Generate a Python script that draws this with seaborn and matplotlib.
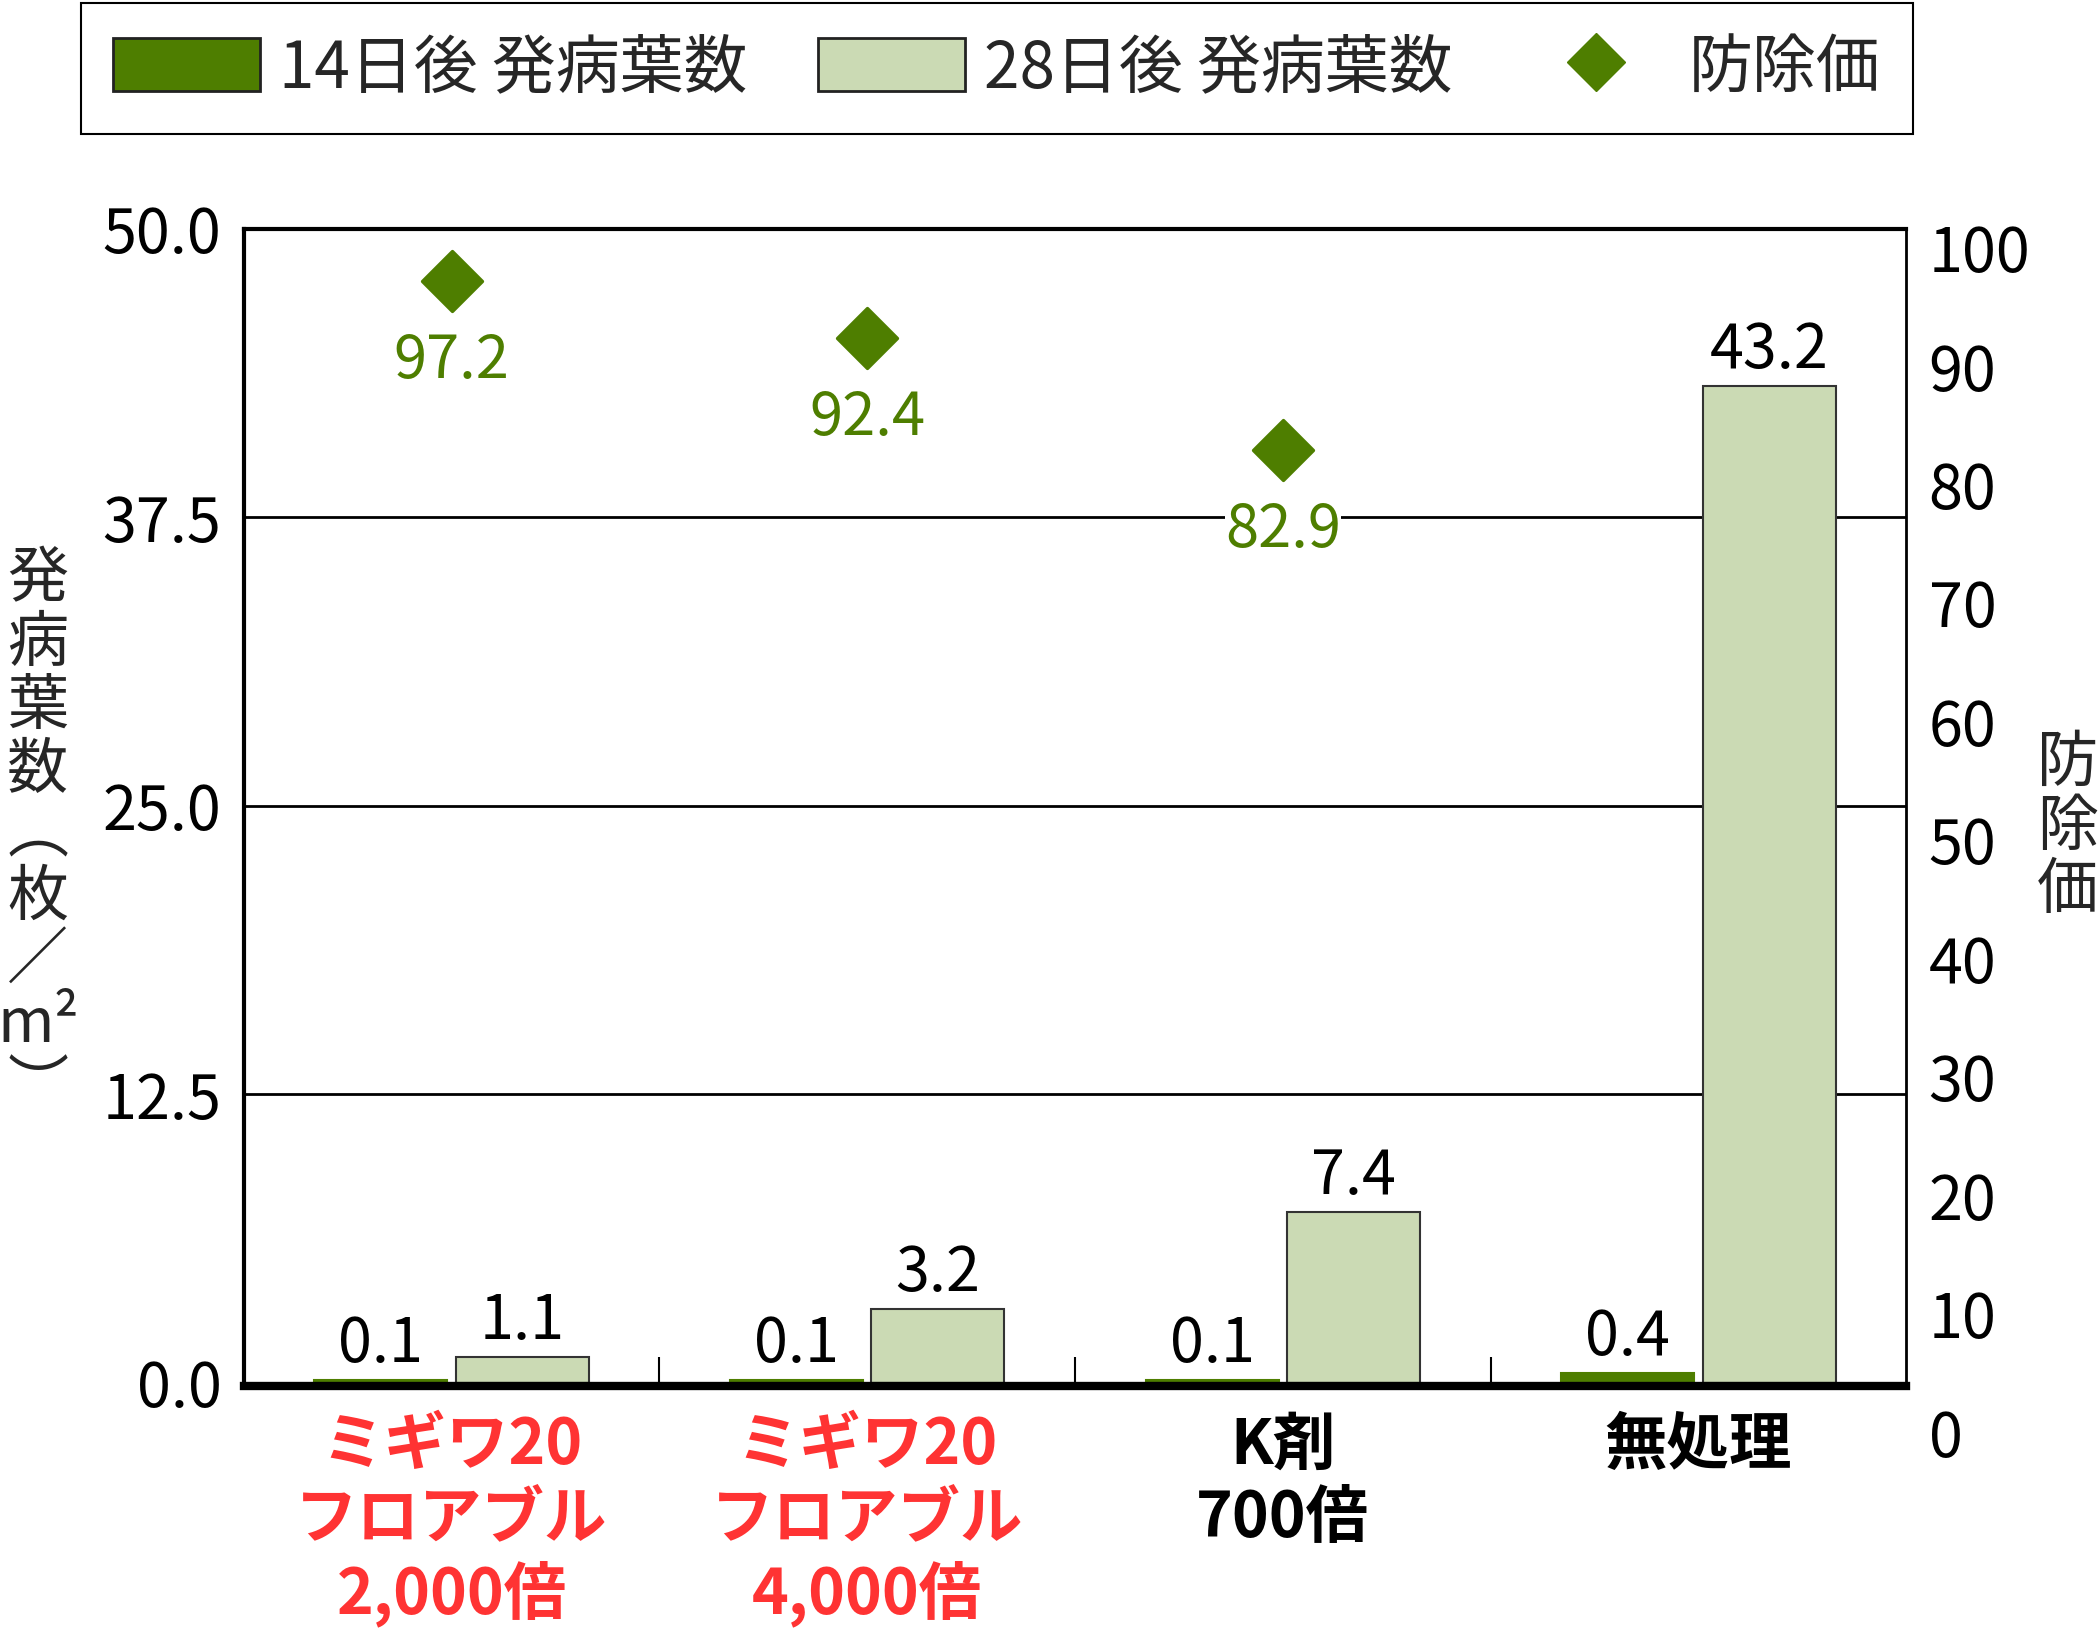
import pandas as pd
import matplotlib
matplotlib.use("Agg")
import matplotlib.pyplot as plt
import seaborn as sns
from matplotlib.patches import Patch
from matplotlib.lines import Line2D

# data
treatments = ["ミギワ20\nフロアブル\n2,000倍", "ミギワ20\nフロアブル\n4,000倍", "K剤\n700倍", "無処理"]
label_colors = ["#FF3333", "#FF3333", "black", "black"]
day14 = [0.1, 0.1, 0.1, 0.4]
day28 = [1.1, 3.2, 7.4, 43.2]
control_value = [97.2, 92.4, 82.9]
series_names = ["14日後 発病葉数", "28日後 発病葉数"]
left_ticks = [0.0, 12.5, 25.0, 37.5, 50.0]
right_ticks = [0, 10, 20, 30, 40, 50, 60, 70, 80, 90, 100]

DARK = "#4E7E00"
LIGHT = "#CBDAB4"

df = pd.DataFrame({
    "treatment": treatments * 2,
    "count": day14 + day28,
    "timing": [series_names[0]] * 4 + [series_names[1]] * 4,
})

sns.set_theme(style="white")
plt.rcParams["font.family"] = ["Noto Sans CJK JP", "DejaVu Sans"]

fig = plt.figure(figsize=(20.99, 16.48), dpi=100)
ax = fig.add_axes([0.1161, 0.161, 0.7921, 0.700])

sns.barplot(data=df, x="treatment", y="count", hue="timing", palette=[DARK, LIGHT],
            width=0.68, gap=0.06, ax=ax, legend=False, saturation=1)
for bar in ax.containers[0]:
    bar.set_edgecolor(DARK)
    bar.set_linewidth(1.5)
for bar in ax.containers[1]:
    bar.set_edgecolor("#333333")
    bar.set_linewidth(1.5)
for cont in ax.containers:
    ax.bar_label(cont, fmt="%.1f", padding=3, fontsize=44, color="black")

ax.set_xlim(-0.5, 3.5)
ax.set_ylim(0, 50)
ax.set_yticks(left_ticks)
ax.set_yticklabels([f"{t:.1f}" for t in left_ticks])
ax.tick_params(axis="y", length=0, pad=16, labelsize=44, colors="black")
ax.set_xlabel("")
ax.set_ylabel("")
ax.set_xticks([0.5, 1.5, 2.5], minor=True)
ax.tick_params(axis="x", which="minor", direction="in", length=21, width=1.5, color="black", bottom=True)

ax.yaxis.grid(True, color="black", linewidth=2)
ax.set_axisbelow(True)
for side, lw in [("left", 3), ("bottom", 6), ("top", 3), ("right", 2)]:
    ax.spines[side].set_color("black")
    ax.spines[side].set_linewidth(lw)
ax.spines["bottom"].set_position(("outward", 2.5))

# right axis for control value (its scale sits slightly lower than the left one)
ax2 = fig.add_axes([0.1161, 0.1309, 0.7921, 0.7187])
ax2.patch.set_visible(False)
xs = [0, 1, 2]
sns.scatterplot(x=xs, y=control_value, marker="D", s=930, color=DARK, edgecolor=DARK, ax=ax2, zorder=5)
ax2.set_xlim(-0.5, 3.5)
ax2.set_ylim(0, 100)
ax2.set_yticks(right_ticks)
ax2.yaxis.tick_right()
ax2.tick_params(axis="y", length=0, pad=16, labelsize=44, colors="black")
ax2.tick_params(axis="x", which="both", bottom=False, labelbottom=False)
ax2.set_xlabel("")
ax2.set_ylabel("")
ax2.grid(False)
for s in ax2.spines.values():
    s.set_visible(False)
for x, v in zip(xs, control_value):
    ax2.annotate(f"{v:.1f}", (x, v), xytext=(0, -36), textcoords="offset points",
                 ha="center", va="top", fontsize=43, color=DARK,
                 bbox=dict(facecolor="white", edgecolor="none", pad=0))

# category labels: bold, multi-line, product names in red
ax.tick_params(axis="x", which="major", length=0, pad=20, labelsize=45)
for lbl, c in zip(ax.get_xticklabels(), label_colors):
    lbl.set_color(c)
    lbl.set_fontweight("bold")
    lbl.set_linespacing(1.2)
    lbl.set_verticalalignment("top")

# axis titles, stacked vertically
fig.text(0.018, 0.494, "\n".join(["発", "病", "葉", "数", "︵", "枚", "／", "m²", "︶"]),
         ha="center", va="center", fontsize=44, linespacing=1.02)
fig.text(0.985, 0.498, "\n".join(["防", "除", "価"]),
         ha="center", va="center", fontsize=44, linespacing=1.02)

handles = [Patch(facecolor=DARK, edgecolor="#222222", linewidth=2),
           Patch(facecolor=LIGHT, edgecolor="#222222", linewidth=2),
           Line2D([], [], linestyle="none", marker="D", markersize=30, color=DARK)]
leg = fig.legend(handles, series_names + ["防除価"], loc="upper center", ncol=3,
                 bbox_to_anchor=(0.475, 0.998),
                 fontsize=46, frameon=True, fancybox=False, framealpha=1,
                 handlelength=2.3, handleheight=0.9, handletextpad=0.3,
                 columnspacing=1.1, borderpad=0.5, borderaxespad=0)
leg.get_frame().set_edgecolor("black")
leg.get_frame().set_linewidth(1.5)

fig.savefig("out.png", dpi=100)
